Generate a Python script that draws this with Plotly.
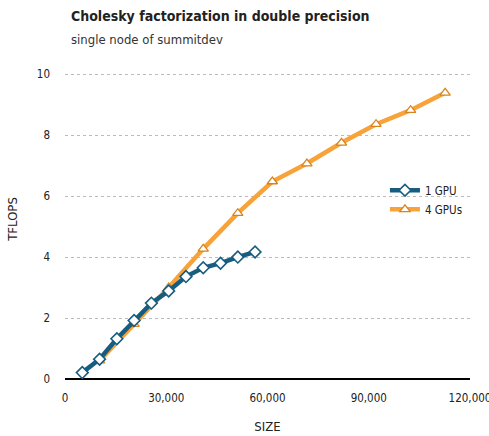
import plotly.graph_objects as go

size_1gpu = [5120, 10240, 15360, 20480, 25600, 30720, 35840, 40960, 46080, 51200, 56320]
tflops_1gpu = [0.21, 0.65, 1.32, 1.92, 2.49, 2.89, 3.36, 3.65, 3.80, 4.00, 4.17]

size_4gpu = [10240, 20480, 30720, 40960, 51200, 61440, 71680, 81920, 92160, 102400, 112640]
tflops_4gpu = [0.60, 1.80, 3.00, 4.27, 5.44, 6.48, 7.07, 7.75, 8.36, 8.82, 9.39]

FONT = "DejaVu Sans Condensed, Roboto, sans-serif"

fig = go.Figure()
fig.add_trace(go.Scatter(
    x=size_4gpu, y=tflops_4gpu, name="4 GPUs", mode="lines+markers",
    line=dict(color="#f7a33a", width=4.5),
    marker=dict(symbol="triangle-up", size=9, color="white",
                line=dict(color="#d8841a", width=1.3)),
))
fig.add_trace(go.Scatter(
    x=size_1gpu, y=tflops_1gpu, name="1 GPU", mode="lines+markers",
    line=dict(color="#175d7f", width=4.5),
    marker=dict(symbol="diamond", size=9, color="white",
                line=dict(color="#175d7f", width=1.6)),
))

fig.update_layout(
    width=489, height=436,
    margin=dict(l=65, r=19, t=59, b=57),
    paper_bgcolor="white", plot_bgcolor="white",
    font=dict(family=FONT, size=11, color="#222"),
    showlegend=True,
    legend=dict(x=0.79, y=0.635, xanchor="left", yanchor="top",
                traceorder="reversed", bgcolor="rgba(0,0,0,0)",
                font=dict(size=11.5), itemwidth=30),
    annotations=[
        dict(text="<b>Cholesky factorization in double precision</b>",
             xref="paper", yref="paper", x=0.01, y=1.0, xanchor="left", yanchor="bottom",
             yshift=33, showarrow=False, font=dict(size=14, color="#222")),
        dict(text="single node of summitdev",
             xref="paper", yref="paper", x=0.01, y=1.0, xanchor="left", yanchor="bottom",
             yshift=10, showarrow=False, font=dict(size=13, color="#333")),
    ],
)
fig.update_xaxes(
    range=[0, 120000], tickvals=[0, 30000, 60000, 90000, 120000],
    tickformat=",", showgrid=False, showline=False, zeroline=False,
    ticks="", ticklabelstandoff=10, automargin=False, ticklabeloverflow="allow",
    title=dict(text="SIZE", standoff=18), tickfont=dict(size=11.5),
)
fig.update_yaxes(
    range=[0, 10.5], tickvals=[0, 2, 4, 6, 8, 10],
    showgrid=True, gridcolor="#bbbbbb", griddash="dot", gridwidth=1,
    zeroline=True, zerolinecolor="black", zerolinewidth=1.5,
    showline=False, ticks="", ticklabelstandoff=14, automargin=False,
    title=dict(text="TFLOPS", standoff=16), tickfont=dict(size=11.5),
)
fig.write_html("out.html", config={"displayModeBar": False},
               post_script="document.body.style.margin='0';")
